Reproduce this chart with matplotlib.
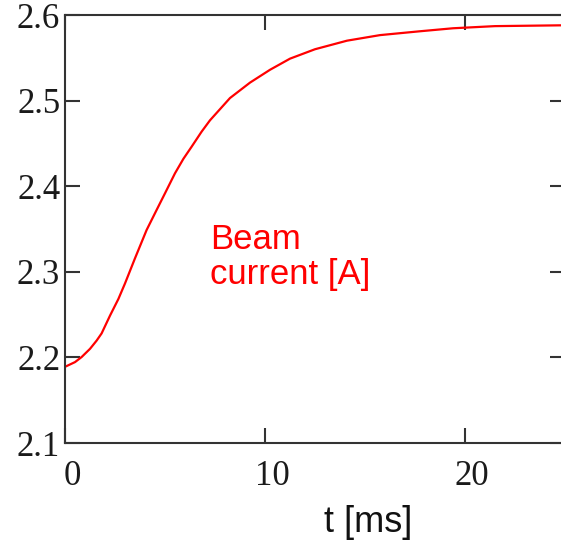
import matplotlib
matplotlib.use("Agg")
import matplotlib.pyplot as plt
import matplotlib.transforms as mtransforms

# beam current
t_ms = [0, 0.5, 0.83, 1.25, 1.58, 1.83, 2.25, 2.67, 3.0, 3.5, 4.08, 4.58, 5.0,
        5.5, 5.92, 6.33, 6.83, 7.25, 8.25, 9.25, 10.25, 11.25, 12.5, 14.1,
        15.75, 17.75, 19.4, 21.5, 25]
current = [2.189, 2.1945, 2.2004, 2.210, 2.2196, 2.228, 2.2488, 2.2683, 2.2864,
           2.3158, 2.3488, 2.3722, 2.3917, 2.4151, 2.432, 2.4461, 2.4637, 2.477,
           2.503, 2.521, 2.536, 2.549, 2.560, 2.570, 2.5765, 2.581, 2.5845,
           2.587, 2.588]

x_ticks = [0, 10, 20]
y_ticks = [2.1, 2.2, 2.3, 2.4, 2.5, 2.6]
y_tick_labels = ["2.1", "2.2", "2.3", "2.4", "2.5", "2.6"]

fig = plt.figure(figsize=(5.61, 5.48), dpi=100)
ax = fig.add_axes([65 / 561, 105 / 548, 500 / 561, 428 / 548])

ax.plot(t_ms, current, color="#ff0000", linewidth=1.6)

ax.set_xlim(0, 25)
ax.set_ylim(2.1, 2.6)
ax.set_xticks(x_ticks)
ax.set_yticks(y_ticks)
ax.set_yticklabels(y_tick_labels)

for s in ax.spines.values():
    s.set_color("#333333")
    s.set_linewidth(1.5)

ax.tick_params(direction="in", top=True, right=True, length=10.5, width=1.5,
               color="#333333", labelsize=25, labelcolor="#1a1a1a")
ax.tick_params(axis="y", pad=3.5)
ax.tick_params(axis="x", pad=12)
for lab in ax.get_xticklabels() + ax.get_yticklabels():
    lab.set_family("Liberation Serif")

# Mathcad puts the x labels a little right of the tick
shift = mtransforms.ScaledTranslation(7 / 100, 0, fig.dpi_scale_trans)
for lab in ax.get_xticklabels():
    lab.set_transform(lab.get_transform() + shift)

ax.set_xlabel("t [ms]", family="Liberation Sans", fontsize=26, color="#111111")
ax.xaxis.set_label_coords((368 - 65) / 500, -0.145)

ax.text(0.29, 0.435, "Beam\ncurrent [A]", transform=ax.transAxes,
        family="Liberation Sans", fontsize=25, color="#ff0000",
        ha="left", va="center", linespacing=1.1)

fig.savefig("out.png", dpi=100)
